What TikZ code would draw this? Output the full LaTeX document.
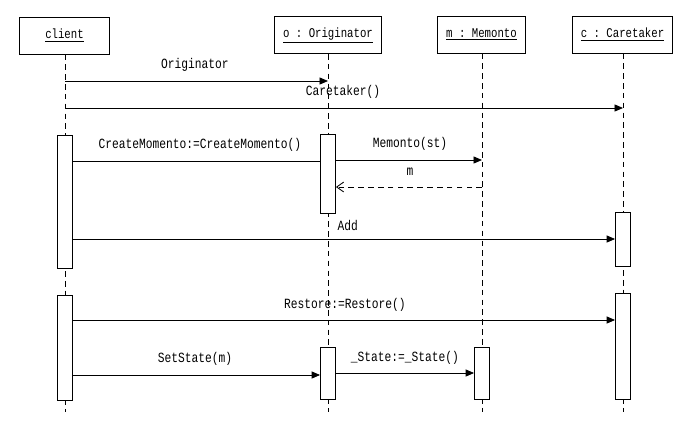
\documentclass[tikz,border=0pt]{standalone}
\usepackage{fontspec}
\setmonofont{Liberation Mono}[FakeStretch=0.8]
\usetikzlibrary{arrows.meta}
\tikzset{
  head/.style={draw,line width=0.7pt,minimum height=0.925cm,font=\ttfamily\fontsize{9.5}{11}\selectfont},
  act/.style={draw,fill=white,line width=0.6pt,minimum width=0.375cm,inner sep=0pt},
  life/.style={dash pattern=on 4pt off 3pt,line width=0.6pt},
  msg/.style={-{Triangle[length=6pt,width=5pt]},line width=0.6pt},
  ret/.style={-{Straight Barb[length=5pt,width=7pt]},dash pattern=on 4pt off 3pt,line width=0.6pt},
  lbl/.style={font=\ttfamily\fontsize{10}{12}\selectfont,inner sep=1pt}
}
\begin{document}
\begin{tikzpicture}[x=0.025cm,y=-0.025cm]
  \useasboundingbox (0,0) rectangle (700,436);
  % objects
  \node[head,minimum width=2.225cm] (cl) at (64.5,35.5) {\underline{client}};
  \node[head,minimum width=2.65cm] (or) at (328,35) {\underline{o : Originator}};
  \node[head,minimum width=2.2cm] (me) at (481.5,34.5) {\underline{m : Memonto}};
  \node[head,minimum width=2.475cm] (ca) at (622.5,34.5) {\underline{c : Caretaker}};
  % lifelines
  \coordinate (clend) at (65,412);
  \coordinate (orend) at (328,412);
  \coordinate (meend) at (482,412);
  \coordinate (caend) at (623,412);
  \draw[life] (cl.south -| clend) -- (clend);
  \draw[life] (or.south -| orend) -- (orend);
  \draw[life] (me.south -| meend) -- (meend);
  \draw[life] (ca.south -| caend) -- (caend);
  % activations
  \node[act,minimum height=3.325cm] (ca1) at (65,201.5) {};
  \node[act,minimum height=1.975cm] (oa1) at (328,173.5) {};
  \node[act,minimum height=1.35cm] (ta1) at (623,239) {};
  \node[act,minimum height=2.625cm] (ca2) at (65,347.5) {};
  \node[act,minimum height=2.65cm] (ta2) at (623,346) {};
  \node[act,minimum height=1.3cm] (oa2) at (328,373) {};
  \node[act,minimum height=1.3cm] (ma1) at (482,373) {};
  % messages
  \draw[msg] (clend |- 0,81) -- (orend |- 0,81);
  \node[lbl] (m1) at (195,65) {Originator};
  \draw[msg] (clend |- 0,108) -- (caend |- 0,108);
  \node[lbl] (m2) at (343,92) {Caretaker()};
  \draw[line width=0.6pt] (ca1.east |- 0,161) -- (oa1.west |- 0,161);
  \node[lbl] (m3) at (200,145) {CreateMomento:=CreateMomento()};
  \draw[msg] (oa1.east |- 0,160) -- (meend |- 0,160);
  \node[lbl] (m4) at (410,144) {Memonto(st)};
  \draw[ret] (meend |- 0,187) -- (oa1.east |- 0,187);
  \node[lbl] (m5) at (410,172) {m};
  \draw[msg] (ca1.east |- 0,239) -- (ta1.west |- 0,239);
  \node[lbl,anchor=west] (m6) at (336,225) {Add};
  \draw[msg] (ca2.east |- 0,320) -- (ta2.west |- 0,320);
  \node[lbl] (m7) at (345,305) {Restore:=Restore()};
  \draw[msg] (ca2.east |- 0,375) -- (oa2.west |- 0,375);
  \node[lbl] (m8) at (195,359) {SetState(m)};
  \draw[msg] (oa2.east |- 0,373) -- (ma1.west |- 0,373);
  \node[lbl] (m9) at (405,358) {\_State:=\_State()};
\end{tikzpicture}
\end{document}
